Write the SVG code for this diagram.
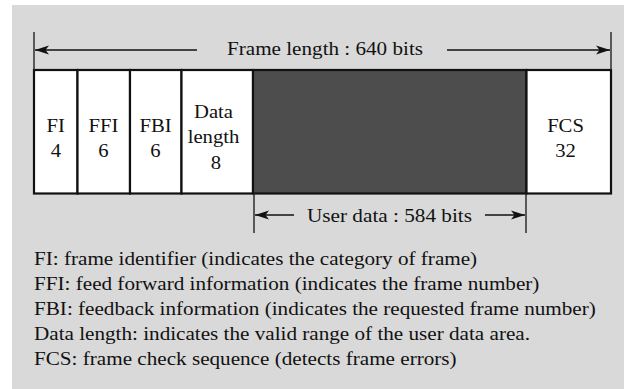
<svg xmlns="http://www.w3.org/2000/svg" width="624" height="389" viewBox="0 0 624 389">
  <style>
    text { font-family: "Liberation Serif", "Times New Roman", serif; fill: #111; }
    .cell { font-size: 19.5px; text-anchor: middle; }
    .dim { font-size: 19.5px; }
    .legend { font-size: 19.5px; }
    .box { stroke: #111; stroke-width: 2.2; }
    .tick { stroke: #222; stroke-width: 1.4; fill: none; }
    .dimline { stroke: #111; stroke-width: 1.4; fill: none; marker-end: url(#arrow); }
  </style>
  <defs>
    <marker id="arrow" markerUnits="userSpaceOnUse" markerWidth="16" markerHeight="12" refX="14" refY="6" orient="auto">
      <path d="M0,1.4 L14,6 L0,10.6 L3.5,6 Z" fill="#111"/>
    </marker>
  </defs>

  <!-- background panel -->
  <rect x="12" y="5" width="612" height="384" fill="#d9d9d9"/>

  <!-- frame fields (text set slightly wide: matrix scales x by 1.06) -->
  <g id="field-fi">
    <rect class="box" x="34" y="70" width="43.5" height="123.5" fill="#fff"/>
    <text class="cell" transform="matrix(1.06 0 0 1 55.8 0)" y="132">FI</text>
    <text class="cell" transform="matrix(1.06 0 0 1 55.8 0)" y="157">4</text>
  </g>
  <g id="field-ffi">
    <rect class="box" x="77.5" y="70" width="52.5" height="123.5" fill="#fff"/>
    <text class="cell" transform="matrix(1.06 0 0 1 103.5 0)" y="132">FFI</text>
    <text class="cell" transform="matrix(1.06 0 0 1 103.5 0)" y="157">6</text>
  </g>
  <g id="field-fbi">
    <rect class="box" x="130" y="70" width="51.5" height="123.5" fill="#fff"/>
    <text class="cell" transform="matrix(1.06 0 0 1 155.5 0)" y="132">FBI</text>
    <text class="cell" transform="matrix(1.06 0 0 1 155.5 0)" y="157">6</text>
  </g>
  <g id="field-data-length">
    <rect class="box" x="181.5" y="70" width="71.5" height="123.5" fill="#fff"/>
    <text class="cell" transform="matrix(1.06 0 0 1 213.5 0)" y="118">Data</text>
    <text class="cell" transform="matrix(1.06 0 0 1 213.5 0)" y="143">length</text>
    <text class="cell" transform="matrix(1.06 0 0 1 216 0)" y="169">8</text>
  </g>
  <g id="field-user-data">
    <rect class="box" x="253" y="70" width="273.5" height="123.5" fill="#4d4d4d"/>
  </g>
  <g id="field-fcs">
    <rect class="box" x="526.5" y="70" width="84.5" height="123.5" fill="#fff"/>
    <text class="cell" transform="matrix(1.06 0 0 1 565.5 0)" y="132">FCS</text>
    <text class="cell" transform="matrix(1.06 0 0 1 565.5 0)" y="157">32</text>
  </g>

  <!-- dimension lines -->
  <g id="connectors">
    <line class="tick" x1="34" y1="32" x2="34" y2="70"/>
    <line class="tick" x1="611" y1="32" x2="611" y2="70"/>
    <line class="dimline" x1="197" y1="50" x2="35" y2="50"/>
    <line class="dimline" x1="447" y1="50" x2="610" y2="50"/>
    <line class="tick" x1="254" y1="193" x2="254" y2="233"/>
    <line class="tick" x1="526" y1="193" x2="526" y2="233"/>
    <line class="dimline" x1="294" y1="215" x2="255" y2="215"/>
    <line class="dimline" x1="485" y1="215" x2="525" y2="215"/>
  </g>

  <g id="label-frame-length">
    <text class="dim" x="227" y="55" textLength="196" lengthAdjust="spacingAndGlyphs">Frame length : 640 bits</text>
  </g>
  <g id="label-user-data">
    <text class="dim" x="307" y="221.5" textLength="165" lengthAdjust="spacingAndGlyphs">User data : 584 bits</text>
  </g>

  <!-- legend, widened slightly horizontally -->
  <g id="legend" transform="matrix(1.085 0 0 1 34 0)">
    <text class="legend" x="0" y="265">FI: frame identifier (indicates the category of frame)</text>
    <text class="legend" x="0" y="290">FFI: feed forward information (indicates the frame number)</text>
    <text class="legend" x="0" y="315">FBI: feedback information (indicates the requested frame number)</text>
    <text class="legend" x="0" y="340">Data length: indicates the valid range of the user data area.</text>
    <text class="legend" x="0" y="365">FCS: frame check sequence (detects frame errors)</text>
  </g>
</svg>
